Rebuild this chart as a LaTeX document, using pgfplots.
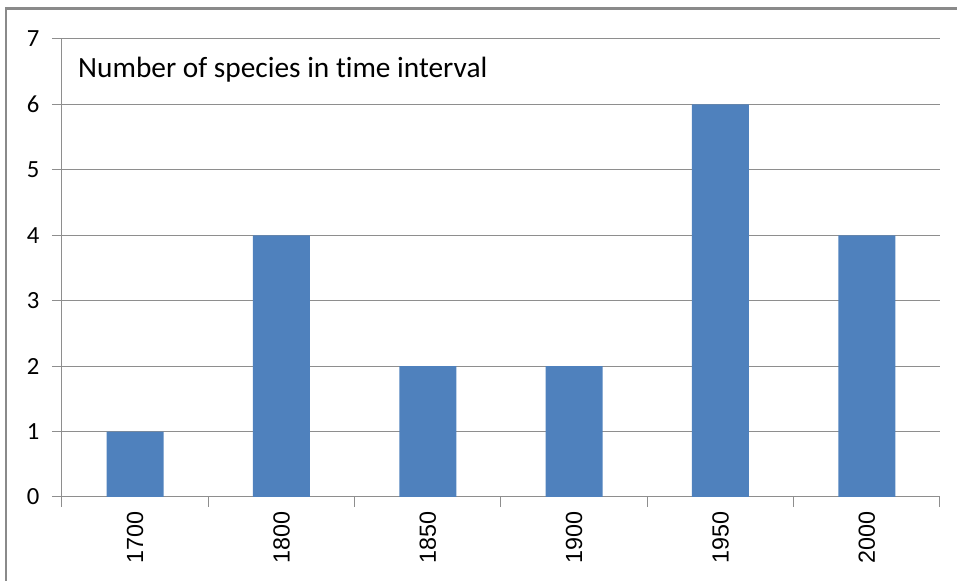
\documentclass[border=0pt]{standalone}
\usepackage{fontspec}
\setmainfont{Carlito}[Ligatures={NoCommon}]
\newfontfamily\arialfont{Liberation Sans}
\usepackage{pgfplots}
\pgfplotsset{compat=1.18}
\definecolor{barblue}{HTML}{4F81BD}
\definecolor{gridgray}{HTML}{8E8E8E}
\definecolor{bordergray}{HTML}{8A8A8A}
\begin{document}
\begin{tikzpicture}
\useasboundingbox (0,0) rectangle (717.75pt,435.75pt);
\draw[bordergray, line width=1.6pt] (4.5pt,-5pt) -- (4.5pt,429.4pt) -- (730pt,429.4pt);
\begin{axis}[
  at={(46.5pt,63pt)}, anchor=south west,
  scale only axis, width=658.5pt, height=343.5pt,
  xmin=-0.5, xmax=5.5, ymin=0, ymax=7,
  axis lines*=left, axis line style={gridgray, line width=0.75pt, -},
  ytick={0,...,7},
  ymajorgrids, grid style={gridgray, line width=0.75pt},
  xtick={0,...,5},
  xticklabels={1700,1800,1850,1900,1950,2000},
  minor xtick={-0.5,0.5,...,5.5},
  tick align=outside,
  major tick length=7.5pt,
  minor tick length=7.5pt,
  x tick style={draw=none},
  minor x tick style={draw=gridgray, line width=0.75pt},
  y tick style={gridgray, line width=0.75pt},
  xticklabel style={font=\arialfont\fontsize{17.5}{20}\selectfont, rotate=90, anchor=east, xshift=0pt, yshift=0pt},
  yticklabel style={font=\fontsize{18.5}{22}\selectfont, xshift=-6pt},
  /pgf/number format/assume math mode=true,
  ybar, bar width=42.75pt,
  clip=false,
]
\addplot[fill=barblue, draw=none] coordinates {(0,1) (1,4) (2,2) (3,2) (4,6) (5,4)};
\node[anchor=base west, font=\fontsize{22}{26}\selectfont, inner sep=0pt] at (rel axis cs:0.0182,0.917) {Number of species in time interval};
\end{axis}
\end{tikzpicture}
\end{document}
